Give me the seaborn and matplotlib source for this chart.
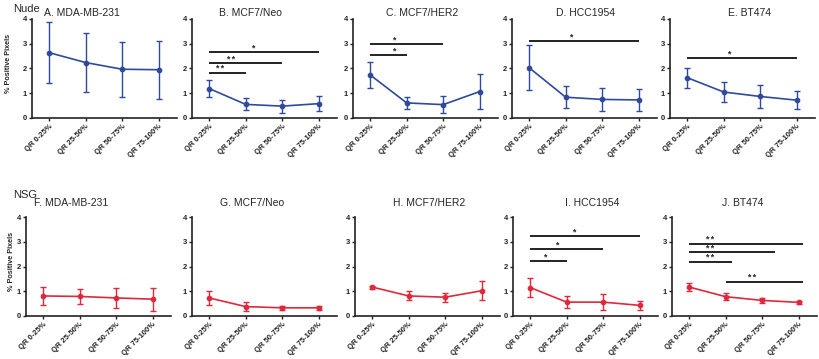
import numpy as np
import pandas as pd
import seaborn as sns
import matplotlib.pyplot as plt

sns.set_style("ticks")
plt.rcParams["font.family"] = ["Liberation Sans", "DejaVu Sans"]

quartiles = ["QR 0-25%", "QR 25-50%", "QR 50-75%", "QR 75-100%"]

nude_names = ["A. MDA-MB-231", "B. MCF7/Neo", "C. MCF7/HER2", "D. HCC1954", "E. BT474"]
nude_means = [[2.64, 2.24, 1.97, 1.95],
              [1.19, 0.55, 0.48, 0.58],
              [1.74, 0.61, 0.54, 1.07],
              [2.03, 0.84, 0.75, 0.73],
              [1.63, 1.05, 0.87, 0.72]]
nude_sd = [[1.24, 1.20, 1.11, 1.17],
           [0.36, 0.24, 0.26, 0.29],
           [0.53, 0.23, 0.34, 0.70],
           [0.90, 0.44, 0.45, 0.45],
           [0.40, 0.40, 0.48, 0.37]]

nsg_names = ["F. MDA-MB-231", "G. MCF7/Neo", "H. MCF7/HER2", "I. HCC1954", "J. BT474"]
nsg_means = [[0.81, 0.79, 0.73, 0.68],
             [0.73, 0.38, 0.33, 0.33],
             [1.17, 0.81, 0.76, 1.02],
             [1.15, 0.56, 0.56, 0.43],
             [1.17, 0.78, 0.63, 0.55]]
nsg_sd = [[0.35, 0.30, 0.41, 0.47],
          [0.29, 0.17, 0.09, 0.08],
          [0.06, 0.18, 0.18, 0.38],
          [0.37, 0.24, 0.32, 0.18],
          [0.18, 0.13, 0.11, 0.05]]

# significance bars: panel -> (from, to, height, stars, star x)
nude_sig = {1: [(0, 1, 1.82, "**", 0.28), (0, 2, 2.22, "**", 0.6), (0, 3, 2.65, "*", 1.19)],
            2: [(0, 1, 2.54, "*", 0.65), (0, 2, 2.97, "*", 0.65)],
            3: [(0, 3, 3.12, "*", 1.13)],
            4: [(0, 3, 2.43, "*", 1.15)]}
nsg_sig = {3: [(0, 1, 2.24, "*", 0.39), (0, 2, 2.71, "*", 0.74), (0, 3, 3.23, "*", 1.18)],
           4: [(0, 1.18, 2.20, "**", 0.55), (0, 2.36, 2.58, "**", 0.55),
               (0, 3.11, 2.91, "**", 0.55), (1, 3.11, 1.38, "**", 1.7)]}

W, H = 819, 359
fig = plt.figure(figsize=(W / 100, H / 100), dpi=100)

rows = [
    dict(names=nude_names, means=nude_means, sd=nude_sd, sig=nude_sig, color="#2f4a9c",
         lefts=[32, 192, 353, 512, 670], y0=118, y4=19, title_y=13,
         title_x=[82, 250, 422, 585, 749], label="Nude", label_y=9, ylab_x=12),
    dict(names=nsg_names, means=nsg_means, sd=nsg_sd, sig=nsg_sig, color="#e0283b",
         lefts=[26, 192, 355, 513, 672], y0=316, y4=217, title_y=203,
         title_x=[71, 252, 429, 592, 743], label="NSG", label_y=195, ylab_x=15),
]

for row in rows:
    fig.text(13 / W, 1 - row["label_y"] / H, row["label"], fontsize=8, ha="left", va="center")
    for i in range(5):
        left = row["lefts"][i]
        ax = fig.add_axes([left / W, 1 - row["y0"] / H, 145 / W, (row["y0"] - row["y4"]) / H])
        df = pd.DataFrame({"quartile": quartiles, "pct": row["means"][i]})
        sns.pointplot(data=df, x="quartile", y="pct", color=row["color"], markers="o",
                      markersize=3.2, linewidth=1.2, errorbar=None, ax=ax)
        ax.errorbar(np.arange(4), row["means"][i], yerr=row["sd"][i], fmt="none",
                    ecolor=row["color"], elinewidth=1, capsize=2.5, capthick=1)
        for a, b, h, s, sx in row["sig"].get(i, []):
            ax.plot([a, b], [h, h], color="#111111", lw=1.3, solid_capstyle="butt")
            ax.text(sx, h + 0.06, s.replace("**", "* *"), fontsize=6.3, fontweight="bold",
                    ha="center", va="baseline")
        ax.set_ylim(0, 4)
        ax.set_yticks([0, 1, 2, 3, 4])
        ax.set_xlim(-0.47, 3.5)
        ax.set_xlabel("")
        ax.set_ylabel("")
        ax.tick_params(axis="both", length=2.5, width=1, pad=1.2, labelsize=5.5, colors="#222222")
        for lab in ax.get_yticklabels():
            lab.set_fontweight("bold")
        ax.set_xticks(range(4))
        ax.set_xticklabels(quartiles, rotation=45, ha="right", rotation_mode="anchor",
                           fontsize=5.5, fontweight="bold")
        for sp in ["left", "bottom"]:
            ax.spines[sp].set_linewidth(1.2)
            ax.spines[sp].set_color("#222222")
        sns.despine(ax=ax)
        ax.set_facecolor("none")
        if i == 0:
            ax.set_ylabel("% Positive Pixels", fontsize=5.2, fontweight="bold")
            ax.yaxis.set_label_coords((row["ylab_x"] - left) / 145, 0.55)
        fig.text(row["title_x"][i] / W, 1 - row["title_y"] / H, row["names"][i],
                 fontsize=7.5, ha="center", va="center")

fig.savefig("out.png", dpi=100)
